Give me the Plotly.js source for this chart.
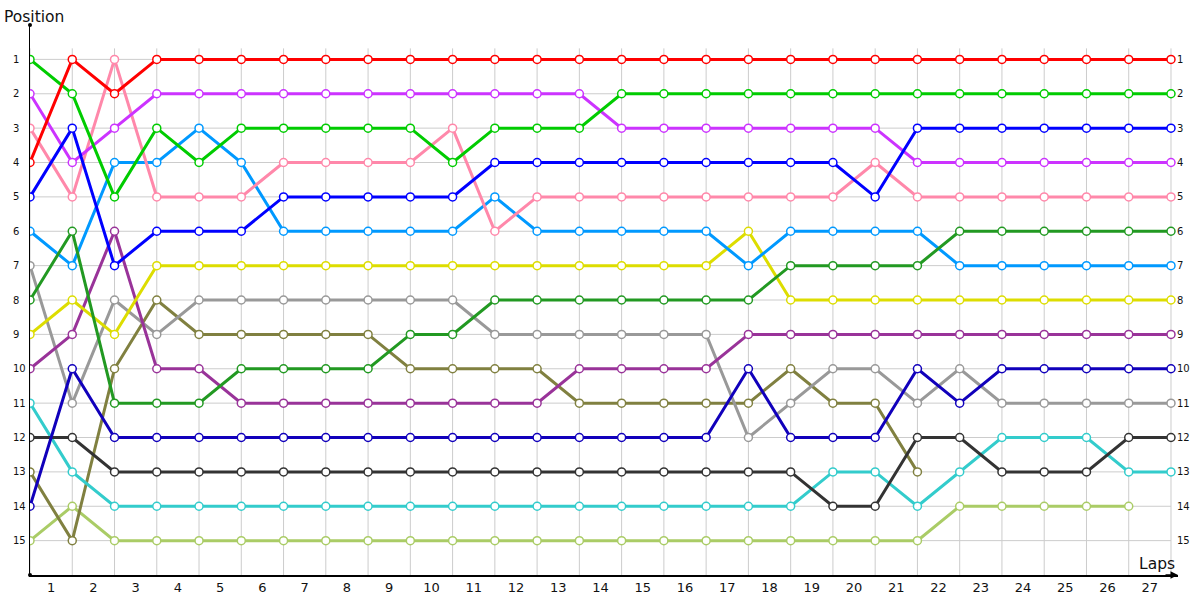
<!DOCTYPE html>
<html>
<head>
<meta charset="utf-8">
<script src="https://cdn.plot.ly/plotly-3.0.1.min.js"></script>
<style>
  html, body { margin: 0; padding: 0; background: #ffffff; }
  #chart { width: 1200px; height: 600px; }
</style>
</head>
<body>
<div id="chart"></div>
<script>
// Lap index (grid points) and tick labels
var lapPoints = [0,1,2,3,4,5,6,7,8,9,10,11,12,13,14,15,16,17,18,19,20,21,22,23,24,25,26,27];
var lapLabelPos = [0.5,1.5,2.5,3.5,4.5,5.5,6.5,7.5,8.5,9.5,10.5,11.5,12.5,13.5,14.5,15.5,16.5,17.5,18.5,19.5,20.5,21.5,22.5,23.5,24.5,25.5,26.5];
var lapLabels = ['1','2','3','4','5','6','7','8','9','10','11','12','13','14','15','16','17','18','19','20','21','22','23','24','25','26','27'];
var positions = [1,2,3,4,5,6,7,8,9,10,11,12,13,14,15];

// Series positions per lap point
var red        = [4,1,2,1,1,1,1,1,1,1,1,1,1,1,1,1,1,1,1,1,1,1,1,1,1,1,1,1];
var green      = [1,2,5,3,4,3,3,3,3,3,4,3,3,3,2,2,2,2,2,2,2,2,2,2,2,2,2,2];
var blue       = [5,3,7,6,6,6,5,5,5,5,5,4,4,4,4,4,4,4,4,4,5,3,3,3,3,3,3,3];
var magenta    = [2,4,3,2,2,2,2,2,2,2,2,2,2,2,3,3,3,3,3,3,3,4,4,4,4,4,4,4];
var pink       = [3,5,1,5,5,5,4,4,4,4,3,6,5,5,5,5,5,5,5,5,4,5,5,5,5,5,5,5];
var darkGreen  = [8,6,11,11,11,10,10,10,10,9,9,8,8,8,8,8,8,8,7,7,7,7,6,6,6,6,6,6];
var lightBlue  = [6,7,4,4,3,4,6,6,6,6,6,5,6,6,6,6,6,7,6,6,6,6,7,7,7,7,7,7];
var yellow     = [9,8,9,7,7,7,7,7,7,7,7,7,7,7,7,7,7,6,8,8,8,8,8,8,8,8,8,8];
var darkPurple = [10,9,6,10,10,11,11,11,11,11,11,11,11,10,10,10,10,9,9,9,9,9,9,9,9,9,9,9];
var darkBlue   = [14,10,12,12,12,12,12,12,12,12,12,12,12,12,12,12,12,10,12,12,12,10,11,10,10,10,10,10];
var gray       = [7,11,8,9,8,8,8,8,8,8,8,9,9,9,9,9,9,12,11,10,10,11,10,11,11,11,11,11];
var darkGray   = [12,12,13,13,13,13,13,13,13,13,13,13,13,13,13,13,13,13,13,14,14,12,12,13,13,13,12,12];
var cyan       = [11,13,14,14,14,14,14,14,14,14,14,14,14,14,14,14,14,14,14,13,13,14,13,12,12,12,13,13];
var olive      = [13,15,10,8,9,9,9,9,9,10,10,10,10,11,11,11,11,11,10,11,11,13];
var lightGreen = [15,14,15,15,15,15,15,15,15,15,15,15,15,15,15,15,15,15,15,15,15,15,14,14,14,14,14];

var seriesList = [lightGreen, olive, cyan, darkGray, gray, darkBlue, darkPurple, yellow, lightBlue, darkGreen, pink, magenta, blue, green, red];
var colorList  = ['#aacc66','#808040','#33cccc','#333333','#999999','#1100bb','#993399','#dddd00','#0099ff','#229922','#ff88aa','#cc33ff','#0000ff','#00cc00','#ff0000'];

var traces = seriesList.map(function (vals, i) {
  return {
    type: 'scatter',
    mode: 'lines+markers',
    x: lapPoints.slice(0, vals.length),
    y: vals,
    line: { color: colorList[i], width: 3 },
    marker: { symbol: 'circle', size: 8, color: '#ffffff', line: { color: colorList[i], width: 1.5 } },
    showlegend: false,
    hoverinfo: 'x+y'
  };
});

var shapes = [];
// vertical grid lines
lapPoints.forEach(function (k) {
  shapes.push({ type: 'line', layer: 'below', xref: 'x', yref: 'y', x0: k, x1: k, y0: 0.68, y1: 16,
    line: { color: '#cccccc', width: 1 } });
});
// horizontal grid lines
positions.forEach(function (p) {
  shapes.push({ type: 'line', layer: 'below', xref: 'x', yref: 'y', x0: 0, x1: lapPoints[lapPoints.length - 1], y0: p, y1: p,
    line: { color: '#cccccc', width: 1 } });
});
// axis end dots
shapes.push({ type: 'circle', xref: 'paper', yref: 'paper', xsizemode: 'pixel', ysizemode: 'pixel',
  xanchor: 0, yanchor: 1, x0: -2, x1: 2, y0: -2, y1: 2, fillcolor: '#000', line: { width: 0 } });
shapes.push({ type: 'circle', xref: 'paper', yref: 'paper', xsizemode: 'pixel', ysizemode: 'pixel',
  xanchor: 0, yanchor: 0, x0: -2, x1: 2, y0: -2, y1: 2, fillcolor: '#000', line: { width: 0 } });

var annotations = [];
positions.forEach(function (p) {
  annotations.push({ xref: 'paper', yref: 'y', x: 0, y: p, xanchor: 'left', yanchor: 'middle', xshift: -19,
    text: String(p), showarrow: false, font: { family: 'DejaVu Sans', size: 10, color: '#111' } });
  annotations.push({ xref: 'x', yref: 'y', x: lapPoints[lapPoints.length - 1], y: p, xanchor: 'left', yanchor: 'middle', xshift: 4,
    text: String(p), showarrow: false, font: { family: 'DejaVu Sans', size: 10, color: '#111' } });
});
annotations.push({ xref: 'paper', yref: 'paper', x: 0, y: 1, xanchor: 'left', yanchor: 'bottom', xshift: -28, yshift: -3,
  text: 'Position', showarrow: false, font: { family: 'DejaVu Sans', size: 15.5, color: '#111' } });
annotations.push({ xref: 'paper', yref: 'paper', x: 1, y: 0, xanchor: 'right', yanchor: 'bottom', xshift: -1, yshift: 0,
  text: 'Laps', showarrow: false, font: { family: 'DejaVu Sans', size: 15.5, color: '#111' } });
// arrow head on x axis
annotations.push({ xref: 'paper', yref: 'paper', x: 1, y: 0, ax: -14, ay: 0, axref: 'pixel', ayref: 'pixel',
  showarrow: true, arrowhead: 2, arrowsize: 1, arrowwidth: 1.5, arrowcolor: '#000', text: '' });

var layout = {
  width: 1200, height: 600,
  margin: { l: 30, r: 22, t: 25, b: 25 },
  paper_bgcolor: '#ffffff', plot_bgcolor: '#ffffff',
  xaxis: {
    range: [0, 27.166], showgrid: false, zeroline: false,
    showline: true, linecolor: '#000', linewidth: 1.5,
    tickmode: 'array', tickvals: lapLabelPos, ticktext: lapLabels, ticks: '',
    tickfont: { family: 'DejaVu Sans', size: 13, color: '#111' }
  },
  yaxis: {
    range: [16, 0], showgrid: false, zeroline: false,
    showline: true, linecolor: '#000', linewidth: 1.5,
    showticklabels: false, ticks: ''
  },
  shapes: shapes,
  annotations: annotations,
  hovermode: 'closest'
};

Plotly.newPlot('chart', traces, layout, { displayModeBar: false, staticPlot: true });
</script>
</body>
</html>
